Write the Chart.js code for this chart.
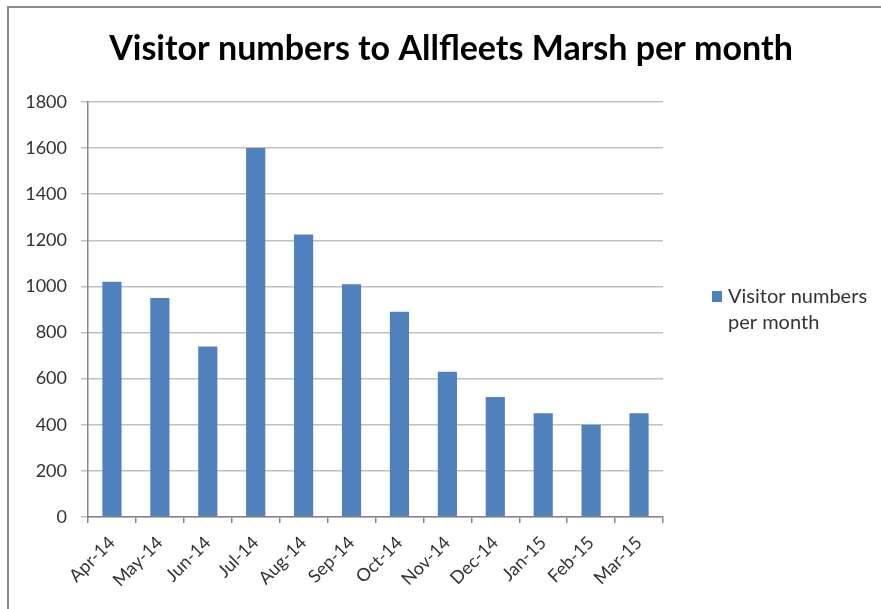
<!DOCTYPE html>
<html><head><meta charset="utf-8">
<script src="https://cdn.jsdelivr.net/npm/chart.js@4.4.0/dist/chart.umd.min.js"></script>
<style>
html,body{margin:0;padding:0;background:#fff;overflow:hidden;}
canvas{display:block;}
</style></head><body>
<canvas id="c" width="881" height="609"></canvas>
<script>
const categories = ['Apr-14','May-14','Jun-14','Jul-14','Aug-14','Sep-14','Oct-14','Nov-14','Dec-14','Jan-15','Feb-15','Mar-15'];
const visitors = [1020, 950, 740, 1600, 1225, 1010, 890, 630, 520, 450, 400, 450];
const yMin = 0, yMax = 1800, yStep = 200;
const seriesName = 'Visitor numbers per month';
const legendLines = ['Visitor numbers', 'per month'];
const chartTitle = 'Visitor numbers to Allfleets Marsh per month';

const FONT = 'Lato, "Open Sans", sans-serif';
const barColor = '#4F81BD';

const frameAndTitle = {
  id: 'frameAndTitle',
  beforeDraw(chart) {
    const ctx = chart.ctx;
    ctx.save();
    ctx.fillStyle = '#fff';
    ctx.fillRect(0, 0, chart.width, chart.height);
    ctx.strokeStyle = '#8a8a8a';
    ctx.lineWidth = 2;
    ctx.beginPath();
    ctx.moveTo(8, chart.height);
    ctx.lineTo(8, 7);
    ctx.lineTo(chart.width, 7);
    ctx.stroke();
    ctx.restore();
  },
  afterDraw(chart) {
    const ctx = chart.ctx;
    const a = chart.chartArea;
    ctx.save();
    ctx.fillStyle = '#000';
    ctx.font = 'bold 34px ' + FONT;
    ctx.textAlign = 'center';
    ctx.textBaseline = 'middle';
    ctx.fillText(chartTitle, 451, 49);
    const x = a.right + 49;
    const y = 291;
    ctx.fillStyle = barColor;
    ctx.fillRect(x, y, 10, 11);
    ctx.fillStyle = '#333';
    ctx.font = '20px ' + FONT;
    ctx.textAlign = 'left';
    legendLines.forEach((t, i) => ctx.fillText(t, x + 16, y + 6 + i * 26));
    ctx.restore();
  }
};

new Chart(document.getElementById('c'), {
  type: 'bar',
  data: {
    labels: categories,
    datasets: [{
      label: seriesName,
      data: visitors,
      backgroundColor: barColor,
      borderWidth: 0,
      barPercentage: 0.4,
      categoryPercentage: 1.0
    }]
  },
  options: {
    responsive: false,
    animation: false,
    layout: { padding: { left: 0, right: 218, top: 102, bottom: 0 } },
    plugins: {
      legend: { display: false },
      tooltip: { enabled: false },
      title: { display: false }
    },
    scales: {
      x: {
        grid: { offset: true, drawOnChartArea: false, drawTicks: true, tickLength: 6, color: '#868686', lineWidth: 1.5 },
        border: { color: '#868686', width: 1.5 },
        ticks: { maxRotation: 45, minRotation: 45, color: '#333', font: { family: FONT, size: 18 }, padding: 9 },
        afterFit(s) { s.height = 92; }
      },
      y: {
        min: yMin, max: yMax,
        ticks: { stepSize: yStep, color: '#333', font: { family: FONT, size: 18 }, padding: 14, callback: v => String(v) },
        grid: { color: '#c0c0c0', lineWidth: 1.5, tickLength: 7 },
        border: { color: '#868686', width: 1.5 },
        afterFit(s) { s.width = 88; }
      }
    }
  },
  plugins: [frameAndTitle]
});
</script>
</body></html>
